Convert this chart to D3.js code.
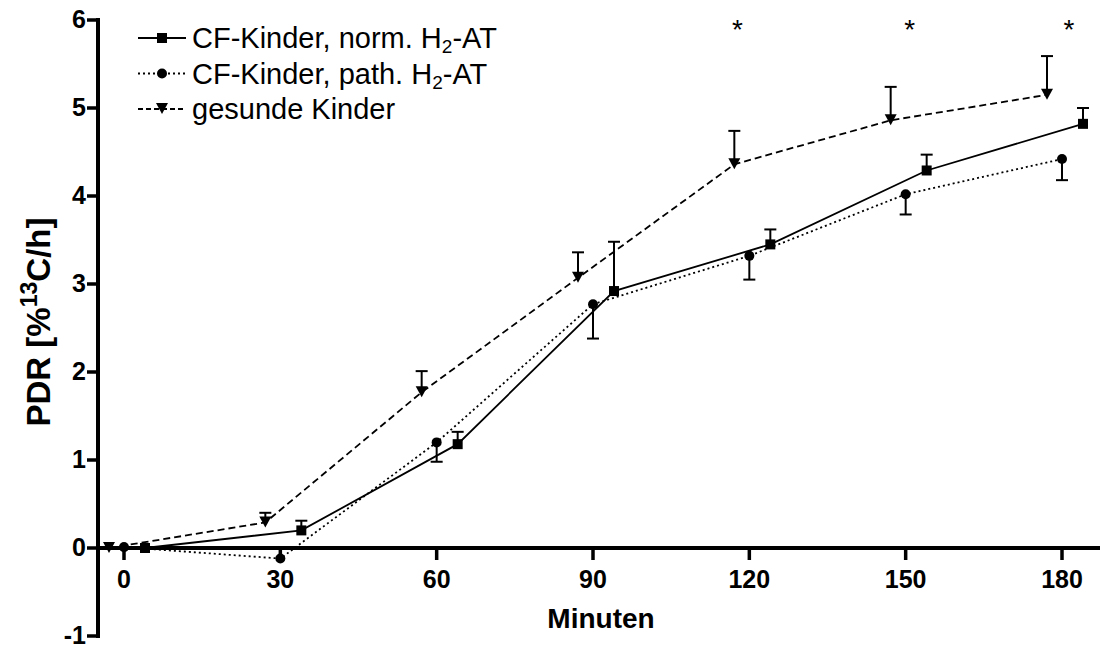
<!DOCTYPE html>
<html><head><meta charset="utf-8">
<script src="https://cdn.jsdelivr.net/npm/d3@7"></script>
<style>html,body{margin:0;padding:0;background:#fff}svg{display:block}</style>
</head><body><svg id="c" width="1100" height="648"></svg>
<script>
const times = [0, 30, 60, 90, 120, 150, 180];
const normMean = [0, 0.20, 1.18, 2.92, 3.45, 4.29, 4.82];
const normSem = [0, 0.11, 0.14, 0.56, 0.17, 0.18, 0.18];
const pathMean = [0.01, -0.12, 1.20, 2.77, 3.32, 4.02, 4.42];
const pathSem = [0, 0, 0.22, 0.39, 0.27, 0.23, 0.24];
const healthyMean = [0, 0.29, 1.77, 3.07, 4.36, 4.86, 5.15];
const healthySem = [0, 0.11, 0.24, 0.29, 0.38, 0.38, 0.44];
const sigTimes = [120, 150, 180];
const xTicks = [0, 30, 60, 90, 120, 150, 180];
const yTicks = [-1, 0, 1, 2, 3, 4, 5, 6];

const svg = d3.select('#c');
const FONT = "'Liberation Sans', Arial, sans-serif";
const x = d3.scaleLinear().domain([0, 180]).range([124, 1062]);
const y = d3.scaleLinear().domain([-1, 6]).range([636, 20]);
const axisX = 98;

// axes
const gx = svg.append('g').attr('transform', `translate(0,${y(0)})`);
gx.append('line').attr('x1', axisX).attr('x2', 1100).attr('y1', 0).attr('y2', 0)
  .attr('stroke', '#000').attr('stroke-width', 4);
gx.selectAll('line.t').data(xTicks).join('line').attr('class', 't')
  .attr('x1', d => x(d)).attr('x2', d => x(d)).attr('y1', 0).attr('y2', 12)
  .attr('stroke', '#000').attr('stroke-width', 3.5);
gx.selectAll('text').data(xTicks).join('text')
  .attr('x', d => x(d)).attr('y', 40).attr('text-anchor', 'middle')
  .attr('font-family', FONT).attr('font-weight', 'bold').attr('font-size', 25)
  .text(d => d);

const gy = svg.append('g').attr('transform', `translate(${axisX},0)`);
gy.append('line').attr('x1', 0).attr('x2', 0).attr('y1', y(-1) + 2).attr('y2', y(6) - 2)
  .attr('stroke', '#000').attr('stroke-width', 4);
gy.selectAll('line.t').data(yTicks).join('line').attr('class', 't')
  .attr('x1', -11).attr('x2', 0).attr('y1', d => y(d)).attr('y2', d => y(d))
  .attr('stroke', '#000').attr('stroke-width', 3.5);
gy.selectAll('text').data(yTicks).join('text')
  .attr('x', -12).attr('y', d => y(d)).attr('dy', '0.33em').attr('text-anchor', 'end')
  .attr('font-family', FONT).attr('font-weight', 'bold').attr('font-size', 25)
  .text(d => d);

// axis titles
svg.append('text').attr('x', 601).attr('y', 628).attr('text-anchor', 'middle')
  .attr('font-family', FONT).attr('font-weight', 'bold').attr('font-size', 28).text('Minuten');
const yl = svg.append('text').attr('transform', 'translate(50,322) rotate(-90)')
  .attr('text-anchor', 'middle').attr('font-family', FONT).attr('font-weight', 'bold').attr('font-size', 33);
yl.append('tspan').text('PDR [%');
yl.append('tspan').attr('font-size', 23).attr('dy', -13).text('13');
yl.append('tspan').attr('dy', 13).text('C/h]');

// series
const series = [
  {name: 'norm', mean: normMean, sem: normSem, dir: 1, dx: 21, dash: null, shape: 'square'},
  {name: 'path', mean: pathMean, sem: pathSem, dir: -1, dx: 0, dash: '2,3', shape: 'circle'},
  {name: 'healthy', mean: healthyMean, sem: healthySem, dir: 1, dx: -15, dash: '7,4', shape: 'tri'}
];

function marker(g, shape, cx, cy) {
  if (shape === 'square') {
    g.append('rect').attr('x', cx - 5).attr('y', cy - 5).attr('width', 10).attr('height', 10).attr('fill', '#000');
  } else if (shape === 'circle') {
    g.append('circle').attr('cx', cx).attr('cy', cy).attr('r', 5).attr('fill', '#000');
  } else {
    g.append('path').attr('d', `M${cx - 6},${cy - 6}L${cx + 6},${cy - 6}L${cx},${cy + 5}Z`).attr('fill', '#000');
  }
}

series.forEach(s => {
  const pts = times.map((t, i) => ({px: x(t) + s.dx, v: s.mean[i], e: s.sem[i]}));
  const line = d3.line().x(d => d.px).y(d => y(d.v));
  svg.append('path').datum(pts).attr('d', line).attr('fill', 'none')
    .attr('stroke', '#000').attr('stroke-width', 1.8)
    .attr('stroke-dasharray', s.dash);
  const g = svg.append('g');
  pts.forEach(p => {
    if (p.e > 0) {
      const ye = y(p.v + s.dir * p.e);
      g.append('line').attr('x1', p.px).attr('x2', p.px).attr('y1', y(p.v)).attr('y2', ye)
        .attr('stroke', '#000').attr('stroke-width', 2);
      g.append('line').attr('x1', p.px - 6).attr('x2', p.px + 6).attr('y1', ye).attr('y2', ye)
        .attr('stroke', '#000').attr('stroke-width', 2);
    }
    marker(g, s.shape, p.px, y(p.v));
  });
});

// significance stars
const starNudge = [-12, 4, 7];
svg.selectAll('text.star').data(sigTimes).join('text').attr('class', 'star')
  .attr('x', (d, i) => x(d) + starNudge[i]).attr('y', 39).attr('text-anchor', 'middle')
  .attr('font-family', FONT).attr('font-size', 28).text('*');

// legend
const legend = [
  {label: ['CF-Kinder, norm. H', '2', '-AT'], dash: null, shape: 'square'},
  {label: ['CF-Kinder, path. H', '2', '-AT'], dash: '2,3', shape: 'circle'},
  {label: ['gesunde Kinder'], dash: '5,3', shape: 'tri'}
];
legend.forEach((l, i) => {
  const cy = 38 + i * 35.5;
  const g = svg.append('g');
  g.append('line').attr('x1', 138).attr('x2', 186).attr('y1', cy).attr('y2', cy)
    .attr('stroke', '#000').attr('stroke-width', 1.8).attr('stroke-dasharray', l.dash);
  marker(g, l.shape, 162, cy);
  const t = g.append('text').attr('x', 192).attr('y', cy + 10)
    .attr('font-family', FONT).attr('font-size', 29);
  t.append('tspan').text(l.label[0]);
  if (l.label.length > 1) {
    t.append('tspan').attr('font-size', 19).attr('dy', 5).text(l.label[1]);
    t.append('tspan').attr('dy', -5).text(l.label[2]);
  }
});
</script></body></html>
